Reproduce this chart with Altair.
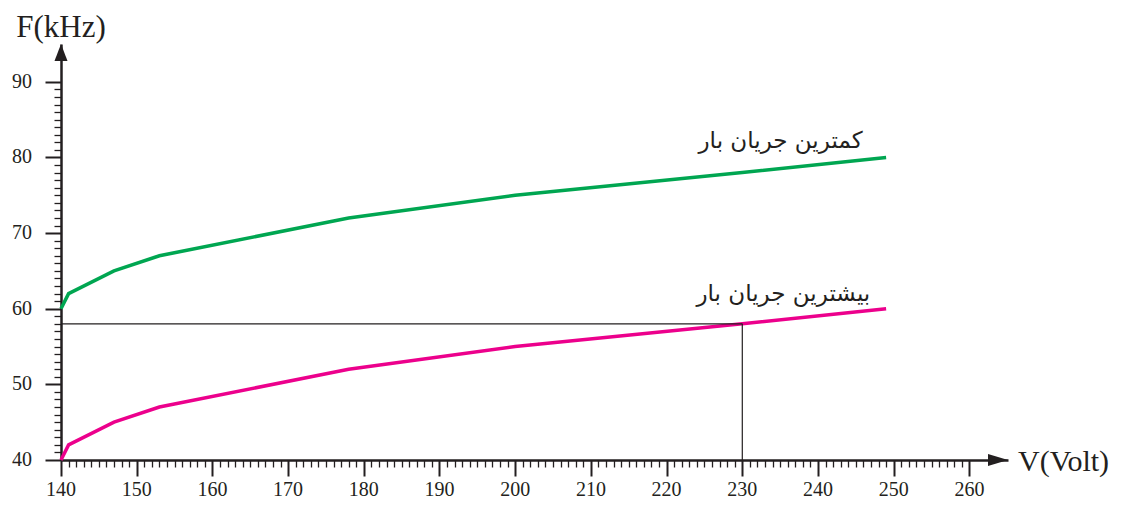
import altair as alt
import pandas as pd

# ---- data ----
V = [140, 141, 147, 153, 178, 200, 230, 249]
F_min_load = [60, 62, 65, 67, 72, 75, 78, 80]   # green
F_max_load = [40, 42, 45, 47, 52, 55, 58, 60]   # pink
label_min = "کمترین جریان بار"
label_max = "بیشترین جریان بار"
x_major = list(range(140, 261, 10))
x_minor = [v for v in range(141, 260) if v % 10]
y_major = list(range(40, 91, 10))
y_minor = [v for v in range(41, 90) if v % 10]
x_domain = [140, 265.1]
y_domain = [40, 95]
ref_V = 230
ref_F = 58
label_V = [245.9, 246.9]
label_F = [82.2, 62.0]

GREEN = "#00a651"
PINK = "#ec008c"
INK = "#231f20"
SERIF = "Liberation Serif"

df = pd.DataFrame({
    "V": V + V,
    "F": F_min_load + F_max_load,
    "series": [label_min] * len(V) + [label_max] * len(V),
})

xs = alt.Scale(domain=x_domain, nice=False, zero=False)
ys = alt.Scale(domain=y_domain, nice=False, zero=False)

ax_x = alt.Axis(values=x_major, tickSize=16, tickWidth=2, tickColor=INK,
                domainColor=INK, domainWidth=2.5, labels=False, grid=False,
                title=None, orient="bottom")
ax_y = alt.Axis(values=y_major, tickSize=16, tickWidth=2, tickColor=INK,
                domainColor=INK, domainWidth=2.5, labels=False, grid=False,
                title=None, orient="left")
ax_x_minor = alt.Axis(values=x_minor, tickSize=7, tickWidth=1.3, tickColor=INK,
                      domain=False, labels=False, grid=False, title=None, orient="bottom")
ax_y_minor = alt.Axis(values=y_minor, tickSize=7, tickWidth=1.3, tickColor=INK,
                      domain=False, labels=False, grid=False, title=None, orient="left")


def X(field):
    return alt.X(field, type="quantitative", scale=xs, axis=ax_x)


def Y(field):
    return alt.Y(field, type="quantitative", scale=ys, axis=ax_y)


lines = alt.Chart(df).mark_line(strokeWidth=3.5).encode(
    x=X("V"), y=Y("F"),
    color=alt.Color("series:N", scale=alt.Scale(domain=[label_min, label_max], range=[GREEN, PINK]), legend=None),
)

ref_df = pd.DataFrame({"x": [x_domain[0], ref_V], "x2": [ref_V, ref_V],
                       "y": [ref_F, y_domain[0]], "y2": [ref_F, ref_F]})
rules = alt.Chart(ref_df).mark_rule(color=INK, strokeWidth=1.2).encode(
    x=X("x"), x2="x2", y=Y("y"), y2="y2")

lab_df = pd.DataFrame({"V": label_V, "F": label_F, "t": [label_min, label_max]})
labels = alt.Chart(lab_df).mark_text(align="right", baseline="middle", font="DejaVu Sans",
                                      fontSize=23, color=INK).encode(
    x=X("V"), y=Y("F"), text="t:N")

# tick labels
xl_df = pd.DataFrame({"V": x_major, "t": [str(v) for v in x_major]})
x_labels = alt.Chart(xl_df).mark_text(font=SERIF, fontSize=20, color=INK, align="center",
                                      baseline="alphabetic").encode(
    x=X("V"), y=alt.value(452), text="t:N")
yl_df = pd.DataFrame({"F": y_major, "t": [str(v) for v in y_major]})
y_labels = alt.Chart(yl_df).mark_text(font=SERIF, fontSize=20, color=INK, align="right",
                                      baseline="middle").encode(
    x=alt.value(-29), y=Y("F"), text="t:N")

arrow_x = alt.Chart(pd.DataFrame({"V": [x_domain[1]], "F": [y_domain[0]]})).mark_point(
    shape="M0,0 L-2,-0.6 L-2,0.6 Z", size=400, filled=True, color=INK, opacity=1, strokeWidth=0
).encode(x=X("V"), y=Y("F"))
arrow_y = alt.Chart(pd.DataFrame({"V": [x_domain[0]], "F": [y_domain[1]]})).mark_point(
    shape="M0,0 L-0.65,1.7 L0.65,1.7 Z", size=400, filled=True, color=INK, opacity=1, strokeWidth=0
).encode(x=X("V"), y=Y("F"))

one = pd.DataFrame({"a": [0]})
title_y = alt.Chart(one).mark_text(text="F(kHz)", font=SERIF, fontSize=31,
                                   color=INK, align="center", baseline="middle").encode(
    x=alt.value(0), y=alt.value(-16))
title_x = alt.Chart(one).mark_text(text="V(Volt)", font=SERIF, fontSize=30,
                                   color=INK, align="left", baseline="middle").encode(
    x=alt.value(957), y=alt.value(418))

main = alt.layer(lines, rules, labels, x_labels, y_labels, arrow_x, arrow_y, title_y, title_x)

minor = alt.Chart(df).mark_point(opacity=0).encode(
    x=alt.X("V:Q", scale=xs, axis=ax_x_minor),
    y=alt.Y("F:Q", scale=ys, axis=ax_y_minor),
)

chart = alt.layer(main, minor).resolve_scale(x="independent", y="independent").properties(
    width=947, height=416,
    autosize=alt.AutoSizeParams(type="none"),
    padding={"left": 53, "top": 36, "right": 107, "bottom": 41},
).configure_view(stroke=None)

chart.save("out.html", embed_options={"renderer": "svg", "actions": False})
